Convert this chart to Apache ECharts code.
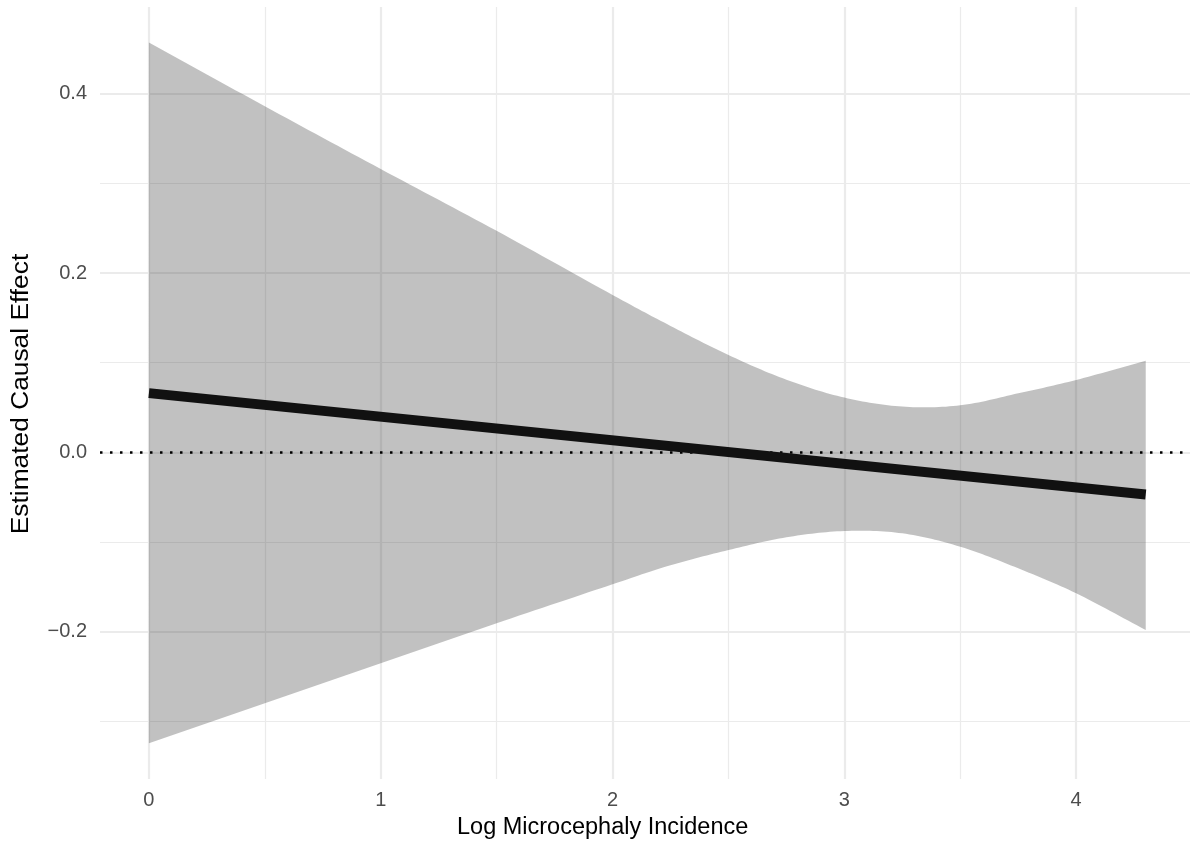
<!DOCTYPE html>
<html>
<head>
<meta charset="utf-8">
<script src="https://cdn.jsdelivr.net/npm/echarts@6/dist/echarts.min.js"></script>
<style>
html,body{margin:0;padding:0;background:#ffffff;}
#chart{width:1190px;height:847px;}
</style>
</head>
<body>
<div id="chart"></div>
<script>
// ---- data ----
const bandX     = [0, 0.5, 1, 1.5, 2, 2.25, 2.5, 2.75, 3, 3.25, 3.5, 3.75, 4, 4.3];
const bandUpper = [0.457, 0.386, 0.316, 0.247, 0.1755, 0.141, 0.1085, 0.081, 0.061, 0.051, 0.0524, 0.0658, 0.0807, 0.1022];
const bandLower = [-0.3246, -0.280, -0.2354, -0.1907, -0.1472, -0.126, -0.109, -0.0948, -0.0878, -0.0904, -0.1053, -0.1294, -0.1573, -0.1982];
const lineX = [0, 4.3];
const lineY = [0.066, -0.047];
const refLineY = 0;
const xMajorTicks = [0, 1, 2, 3, 4];
const xTickLabels = ['0', '1', '2', '3', '4'];
const xMinorTicks = [0.5, 1.5, 2.5, 3.5];
const yMajorTicks = [-0.2, 0, 0.2, 0.4];
const yTickLabels = ['\u22120.2', '0.0', '0.2', '0.4'];
const yMinorTicks = [-0.3, -0.1, 0.1, 0.3];
const xTitle = 'Log Microcephaly Incidence';
const yTitle = 'Estimated Causal Effect';

// ---- chart ----
const X_MIN = -0.211, X_MAX = 4.491;
const Y_MIN = -0.3644, Y_MAX = 0.4967;
const FONT = 'Liberation Sans, Arial, sans-serif';

const chart = echarts.init(document.getElementById('chart'), null, {renderer: 'canvas'});

const lineData = lineX.map((x, i) => [x, lineY[i]]);

function xLabel(v) {
  const i = xMajorTicks.findIndex(t => Math.abs(t - v) < 1e-9);
  return i >= 0 ? xTickLabels[i] : '';
}
function yLabel(v) {
  const i = yMajorTicks.findIndex(t => Math.abs(t - v) < 1e-9);
  return i >= 0 ? yTickLabels[i] : '';
}

// Catmull-Rom rendering of a pixel-space polyline into a smooth outline
function smoothOutline(p) {
  const n = p.length, out = [];
  const get = (i) => {
    if (i < 0) return [2 * p[0][0] - p[1][0], 2 * p[0][1] - p[1][1]];
    if (i >= n) return [2 * p[n - 1][0] - p[n - 2][0], 2 * p[n - 1][1] - p[n - 2][1]];
    return p[i];
  };
  const STEPS = 16;
  for (let i = 0; i < n - 1; i++) {
    const p0 = get(i - 1), p1 = get(i), p2 = get(i + 1), p3 = get(i + 2);
    for (let s = 0; s < STEPS; s++) {
      const t = s / STEPS, t2 = t * t, t3 = t2 * t;
      const f = (k) => 0.5 * (2 * p1[k] + (-p0[k] + p2[k]) * t +
        (2 * p0[k] - 5 * p1[k] + 4 * p2[k] - p3[k]) * t2 +
        (-p0[k] + 3 * p1[k] - 3 * p2[k] + p3[k]) * t3);
      out.push([f(0), f(1)]);
    }
  }
  out.push(p[n - 1]);
  return out;
}

function renderBand(params, api) {
  const up = bandX.map((x, i) => api.coord([x, bandUpper[i]]));
  const lo = bandX.map((x, i) => api.coord([x, bandLower[i]]));
  const pts = smoothOutline(up).concat(smoothOutline(lo).reverse());
  return {
    type: 'polygon',
    shape: {points: pts},
    style: {fill: 'rgba(51,51,51,0.3)', stroke: null}
  };
}

const option = {
  animation: false,
  backgroundColor: '#ffffff',
  grid: {left: 100, right: 0, top: 7, bottom: 68, containLabel: false, outerBoundsMode: 'none'},
  xAxis: [
    {
      type: 'value', min: X_MIN, max: X_MAX, position: 'bottom',
      axisLine: {show: false},
      axisTick: {show: false, customValues: xMajorTicks},
      axisLabel: {show: true, customValues: xMajorTicks, formatter: xLabel, margin: 11,
                  color: '#4D4D4D', fontSize: 20, fontFamily: FONT},
      splitLine: {show: true, lineStyle: {color: '#EBEBEB', width: 2.2}},
      z: 1
    },
    {
      type: 'value', min: X_MIN, max: X_MAX, position: 'bottom',
      axisLine: {show: false},
      axisTick: {show: false, customValues: xMinorTicks},
      axisLabel: {show: false, customValues: xMinorTicks},
      splitLine: {show: true, lineStyle: {color: '#EBEBEB', width: 1.2}},
      z: 0
    }
  ],
  yAxis: [
    {
      type: 'value', min: Y_MIN, max: Y_MAX, position: 'left',
      axisLine: {show: false},
      axisTick: {show: false, customValues: yMajorTicks},
      axisLabel: {show: true, customValues: yMajorTicks, formatter: yLabel, margin: 13,
                  color: '#4D4D4D', fontSize: 20, fontFamily: FONT},
      splitLine: {show: true, lineStyle: {color: '#EBEBEB', width: 2.2}},
      z: 1
    },
    {
      type: 'value', min: Y_MIN, max: Y_MAX, position: 'left',
      axisLine: {show: false},
      axisTick: {show: false, customValues: yMinorTicks},
      axisLabel: {show: false, customValues: yMinorTicks},
      splitLine: {show: true, lineStyle: {color: '#EBEBEB', width: 1.2}},
      z: 0
    }
  ],
  series: [
    {
      name: 'band', type: 'custom', coordinateSystem: 'cartesian2d',
      xAxisIndex: 0, yAxisIndex: 0,
      data: [[0, 0]], renderItem: renderBand, silent: true, z: 2
    },
    {
      name: 'effect', type: 'line', data: lineData,
      xAxisIndex: 0, yAxisIndex: 0,
      symbol: 'none', silent: true,
      lineStyle: {color: '#111111', width: 10, cap: 'butt'},
      z: 4,
      markLine: {
        silent: true, symbol: ['none', 'none'], label: {show: false},
        lineStyle: {color: '#000000', width: 2.5, type: [2.5, 7.5], cap: 'butt'},
        data: [{yAxis: refLineY}],
        z: 3
      }
    }
  ],
  graphic: [
    {type: 'text', left: 457, top: 816,
     style: {text: xTitle, fontSize: 23.5, fontFamily: FONT, fill: '#000000'}},
    {type: 'text', x: 22, y: 394, rotation: Math.PI / 2, scaleX: 1.12, scaleY: 1.0,
     style: {text: yTitle, fontSize: 23.5, fontFamily: FONT, fill: '#000000', align: 'center', verticalAlign: 'middle'}}
  ]
};
chart.setOption(option);
</script>
</body>
</html>
